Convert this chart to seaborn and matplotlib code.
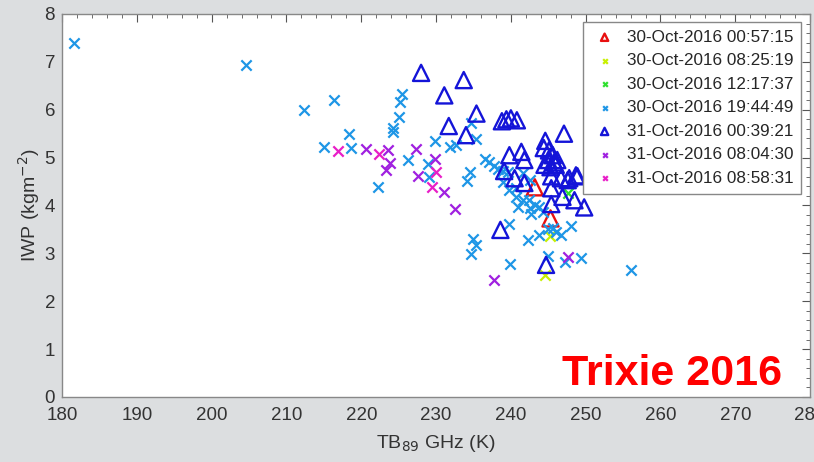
import matplotlib
matplotlib.use("Agg")
import matplotlib.pyplot as plt
import seaborn as sns
from matplotlib.ticker import MultipleLocator

# values
tri_red_x = [243.2, 245.3]
tri_red_y = [4.38, 3.73]

yg_x = [245.2, 244.5]
yg_y = [3.36, 2.55]

green_x = [247.7]
green_y = [4.27]

cyan_x = [181.6, 204.6, 212.3, 216.4, 218.3, 215.0, 218.6, 222.3, 225.4, 225.2,
          225.0, 224.2, 224.3, 226.2, 228.9, 229.1, 229.8, 231.8, 232.6, 234.7,
          235.3, 234.5, 234.2, 235.0, 235.4, 234.7, 236.5, 237.1, 237.8, 238.3,
          238.9, 239.6, 238.9, 240.7, 239.8, 240.7, 241.6, 242.5, 243.2, 243.8,
          244.3, 242.7, 241.6, 242.5, 239.7, 242.3, 243.8, 245.0, 245.6, 246.1,
          246.7, 248.1, 244.9, 247.2, 249.4, 239.9, 256.0, 241.0, 242.4]
cyan_y = [7.40, 6.93, 5.99, 6.20, 5.50, 5.22, 5.21, 4.39, 6.33, 6.17,
          5.85, 5.61, 5.54, 4.96, 4.87, 4.59, 5.34, 5.23, 5.26, 5.73,
          5.38, 4.69, 4.52, 3.29, 3.17, 2.99, 4.97, 4.91, 4.83, 4.77,
          4.73, 4.70, 4.49, 4.36, 4.32, 4.18, 4.11, 3.94, 4.00, 3.97,
          3.87, 3.83, 4.67, 4.53, 3.62, 3.28, 3.38, 3.50, 3.54, 3.45,
          3.38, 3.57, 2.94, 2.83, 2.91, 2.78, 2.65, 3.97, 4.11]

tri_blue_x = [228.0, 233.7, 231.1, 235.4, 231.7, 234.0, 238.8, 239.4, 240.0, 240.8,
              247.1, 239.8, 241.4, 241.8, 239.1, 240.5, 241.8, 244.6, 244.4, 245.1,
              245.6, 245.0, 245.8, 244.5, 245.3, 246.2, 246.0, 245.4, 246.7, 247.8,
              248.9, 245.4, 246.9, 248.5, 249.8, 245.4, 238.6, 244.7, 247.6, 248.7]
tri_blue_y = [6.77, 6.62, 6.30, 5.92, 5.66, 5.47, 5.76, 5.80, 5.82, 5.78,
              5.50, 5.05, 5.12, 4.95, 4.72, 4.57, 4.47, 5.35, 5.20, 5.15,
              5.05, 4.95, 4.90, 4.85, 4.80, 4.95, 4.85, 4.61, 4.57, 4.57,
              4.61, 4.36, 4.18, 4.11, 3.96, 4.03, 3.49, 2.76, 4.53, 4.63]

purple_x = [220.7, 223.6, 223.8, 223.3, 227.3, 229.9, 227.6, 231.0, 232.5, 237.8, 247.6]
purple_y = [5.19, 5.16, 4.89, 4.74, 5.17, 4.97, 4.62, 4.29, 3.93, 2.44, 2.93]

magenta_x = [216.9, 222.4, 230.0, 229.5]
magenta_y = [5.13, 5.07, 4.69, 4.39]

labels = ["30-Oct-2016 00:57:15", "30-Oct-2016 08:25:19", "30-Oct-2016 12:17:37",
          "30-Oct-2016 19:44:49", "31-Oct-2016 00:39:21", "31-Oct-2016 08:04:30",
          "31-Oct-2016 08:58:31"]

sns.set_style("white")
plt.rcParams["font.family"] = ["Liberation Sans", "DejaVu Sans"]

fig = plt.figure(figsize=(8.14, 4.62), dpi=100, facecolor="#dcdee0")
ax = fig.add_axes([0.0762, 0.1407, 0.919, 0.829])
ax.set_facecolor("white")

series = [
    (tri_red_x, tri_red_y, "^", "#e81010", labels[0]),
    (yg_x, yg_y, "x", "#c8f000", labels[1]),
    (green_x, green_y, "x", "#2ee02e", labels[2]),
    (cyan_x, cyan_y, "x", "#1e96e6", labels[3]),
    (tri_blue_x, tri_blue_y, "^", "#1414d8", labels[4]),
    (purple_x, purple_y, "x", "#a020e0", labels[5]),
    (magenta_x, magenta_y, "x", "#e81ec8", labels[6]),
]

for xs, ys, mk, col, lab in series:
    if mk == "^":
        sns.scatterplot(x=xs, y=ys, marker="^", s=135, facecolor="none",
                        edgecolor=col, linewidth=1.7, ax=ax, label=lab)
    else:
        sns.scatterplot(x=xs, y=ys, marker="x", s=55, color=col,
                        linewidth=1.6, ax=ax, label=lab)

ax.set_xlim(180, 280)
ax.set_ylim(0, 8)
ax.xaxis.set_major_locator(MultipleLocator(10))
ax.xaxis.set_minor_locator(MultipleLocator(2))
ax.yaxis.set_major_locator(MultipleLocator(1))
ax.yaxis.set_minor_locator(MultipleLocator(0.2))
ax.tick_params(which="both", direction="in", top=True, right=True,
               color="#555555", labelsize=13.5, labelcolor="#333333")
ax.tick_params(axis="x", which="major", pad=7)
ax.tick_params(axis="y", which="major", pad=5)
ax.tick_params(which="major", length=6, width=0.8)
ax.tick_params(which="minor", length=3, width=0.6)
for sp in ax.spines.values():
    sp.set_color("#888888")
    sp.set_linewidth(1.0)

ax.set_xlabel("TB$_{89}$ GHz (K)", fontsize=14, color="#333333", labelpad=7)
ax.set_ylabel("IWP (kgm$^{-2}$)", fontsize=14, color="#333333", labelpad=2)

leg = ax.legend(loc="upper right", bbox_to_anchor=(0.988, 0.979), borderaxespad=0,
                fontsize=12.3, markerscale=0.45, frameon=True, fancybox=False,
                framealpha=1, edgecolor="#888888", handletextpad=0.5,
                handlelength=1.6, labelspacing=0.5, borderpad=0.45)
leg.get_frame().set_linewidth(1.0)

ax.text(0.962, 0.031, "Trixie 2016", transform=ax.transAxes, ha="right", va="baseline",
        fontsize=31, fontweight="bold", color="#ff0000")

fig.savefig("out.png", dpi=100, facecolor=fig.get_facecolor())
